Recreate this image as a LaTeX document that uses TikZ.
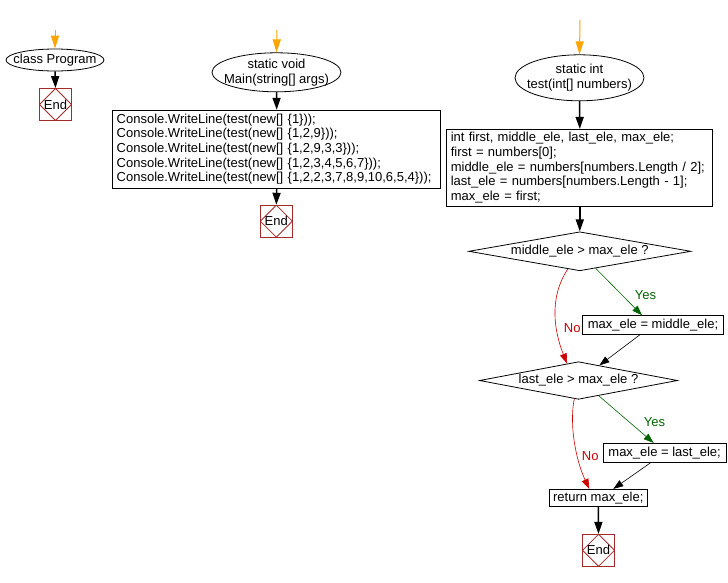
\documentclass[tikz,border=0pt]{standalone}
\usepackage{fontspec}
\setmainfont{Liberation Sans}
\usepackage{tikz}
\usetikzlibrary{arrows.meta,shapes.geometric}
\definecolor{startorange}{RGB}{255,165,0}
\definecolor{endred}{RGB}{165,42,42}
\definecolor{nored}{RGB}{204,0,0}
\definecolor{yesgreen}{RGB}{0,100,0}
\tikzset{
  oval/.style={
    draw,
    ellipse,
    inner xsep=-10pt,
    inner ysep=-5pt,
    align=center,
    minimum width=129pt
  },
  stmt/.style={
    draw,
    rectangle,
    inner xsep=4pt,
    inner ysep=1pt,
    align=left
  },
  decision/.style={
    draw,
    diamond,
    inner sep=0pt,
    shape aspect=5.5
  },
  endbox/.style={
    draw=endred,
    rectangle,
    minimum size=32pt,
    inner sep=0pt,
    path picture={
      \draw[endred] (path picture bounding box.north) -- (path picture bounding box.east)
        -- (path picture bounding box.south) -- (path picture bounding box.west) -- cycle;
    }
  },
  startarrow/.style={
    draw=startorange,
    line width=1pt,
    -{Triangle[length=13pt,width=8pt]}
  },
  flow/.style={
    line width=1.5pt,
    -{Triangle[length=12pt,width=8pt]}
  },
  link/.style={
    line width=0.6pt,
    -{Triangle[length=10pt,width=7pt]}
  },
  branch/.style={
    inner sep=1pt
  }
}

\begin{document}
\begin{tikzpicture}[line width=0.8pt, x=1pt, y=-1pt, font=\fontsize{13}{14.7}\selectfont]
  \useasboundingbox (0,0) rectangle (728,582);

  \coordinate (progIn) at (55,30);
  \node[oval, minimum width=98pt, minimum height=22pt] (progOval) at (55,60) {class Program};
  \node[endbox] (progEnd) at (55.5,104.5) {End};
  \draw[startarrow] (progIn) -- (progOval.north);
  \draw[flow] (progOval.south) -- (progEnd.north);

  \coordinate (mainIn) at (277,30);
  \node[oval, minimum height=39pt] (mainOval) at (276.5,72.3) {static void\\Main(string[] args)};
  \node[stmt, text width=320pt, minimum height=78pt] (mainBox) at (276.7,149.2)
    {Console.WriteLine(test(new[] \{1\}));\\
     Console.WriteLine(test(new[] \{1,2,9\}));\\
     Console.WriteLine(test(new[] \{1,2,9,3,3\}));\\
     Console.WriteLine(test(new[] \{1,2,3,4,5,6,7\}));\\
     Console.WriteLine(test(new[] \{1,2,2,3,7,8,9,10,6,5,4\}));};
  \node[endbox] (mainEnd) at (276.3,221.2) {End};
  \draw[startarrow] (mainIn) -- (mainOval.north);
  \draw[flow] (mainOval.south) -- (mainBox.north);
  \draw[flow] (mainBox.south) -- (mainEnd.north);

  \coordinate (testIn) at (580,20);
  \node[oval, minimum height=46pt] (testOval) at (579.5,77.8) {static int\\test(int[] numbers)};
  \node[stmt, text width=258pt, minimum height=76.7pt] (testBox) at (579.8,167.7)
    {int first, middle\_ele, last\_ele, max\_ele;\\
     first = numbers[0];\\
     middle\_ele = numbers[numbers.Length / 2];\\
     last\_ele = numbers[numbers.Length - 1];\\
     max\_ele = first;};
  \node[decision, minimum width=222pt, minimum height=39pt] (midCheck) at (579.8,251.3) {middle\_ele > max\_ele ?};
  \node[stmt, align=center, minimum width=140.6pt, minimum height=18.6pt] (setMid) at (653,325) {max\_ele = middle\_ele;};
  \node[decision, minimum width=198pt, minimum height=37.6pt] (lastCheck) at (578.5,380.5) {last\_ele > max\_ele ?};
  \node[stmt, align=center, minimum width=122.7pt, minimum height=19pt] (setLast) at (664.6,452.8) {max\_ele = last\_ele;};
  \node[stmt, align=center, minimum width=98pt, minimum height=17.4pt] (retBox) at (598.3,498) {return max\_ele;};
  \node[endbox] (testEnd) at (598.5,550.3) {End};

  \draw[startarrow] (testIn) -- (testOval.north);
  \draw[flow] (testOval.south) -- (testBox.north);
  \draw[flow] (testBox.south) -- (midCheck.north);
  \draw[link, yesgreen] (midCheck.313) -- ([xshift=-11pt]setMid.north)
    node[branch, pos=0.56, right=12pt] {Yes};
  \draw[link, nored] (midCheck.236) .. controls +(-20,30) and +(-12,-30) .. (lastCheck.124)
    node[branch, pos=0.62, right=6pt] {No};
  \draw[link] ([xshift=-13pt]setMid.south) -- (lastCheck.36);
  \draw[link, yesgreen] (lastCheck.323) -- ([xshift=-11pt]setLast.north)
    node[branch, pos=0.56, right=13pt] {Yes};
  \draw[link, nored] (lastCheck.257) .. controls +(-5,25) and +(-14,-30) .. ([xshift=-9pt]retBox.north)
    node[branch, pos=0.65, right=3pt] {No};
  \draw[link] ([xshift=-14pt]setLast.south) -- ([xshift=15pt]retBox.north);
  \draw[flow] (retBox.south) -- (testEnd.north);
\end{tikzpicture}
\end{document}
